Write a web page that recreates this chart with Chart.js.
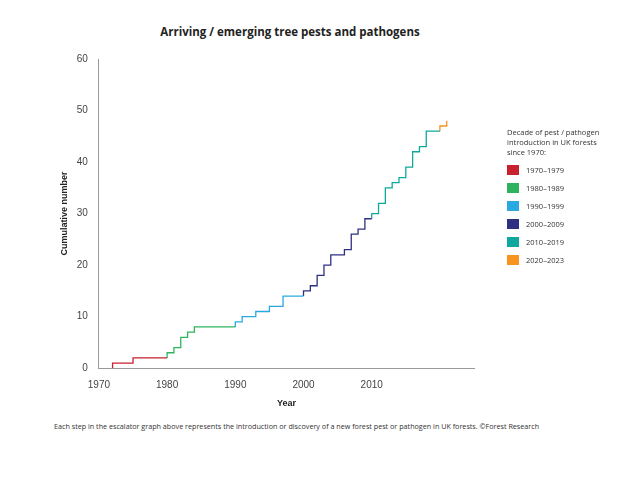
<!DOCTYPE html>
<html><head><meta charset="utf-8">
<script src="https://cdn.jsdelivr.net/npm/chart.js@4"></script>
<style>
body{margin:0;width:640px;height:480px;background:#fff;font-family:"Open Sans",sans-serif;position:relative;overflow:hidden}
#wrap{position:absolute;left:0;top:0;width:640px;height:413px}
#title{position:absolute;left:0;width:580px;top:24px;text-align:center;font-weight:bold;font-size:11.5px;color:#222}
#legend{position:absolute;left:507px;top:127px;font-size:7.5px;color:#333;line-height:10px}
#legend .item{display:flex;align-items:center;margin-top:8px}
#legend .sw{width:12px;height:10px;margin-right:7px}
#foot{position:absolute;left:54px;top:421px;font-size:7.2px;color:#333}
</style></head><body>
<div id="title">Arriving / emerging tree pests and pathogens</div>
<div id="wrap"><canvas id="c"></canvas></div>
<div id="legend"></div>
<div id="foot">Each step in the escalator graph above represents the introduction or discovery of a new forest pest or pathogen in UK forests. ©Forest Research</div>
<script>
// step years and cumulative counts after each step
const years  = [1972, 1975, 1980, 1981, 1982, 1983, 1984, 1990, 1991, 1993, 1995, 1997, 2000, 2001, 2002, 2003, 2004, 2006, 2007, 2008, 2009, 2010, 2011, 2012, 2013, 2014, 2015, 2016, 2017, 2018, 2020, 2021];
const counts = [1, 2, 3, 4, 6, 7, 8, 9, 10, 11, 12, 14, 15, 16, 18, 20, 22, 23, 26, 27, 29, 30, 32, 35, 36, 37, 39, 42, 43, 46, 47, 48];
const decades = ['1970–1979', '1980–1989', '1990–1999', '2000–2009', '2010–2019', '2020–2023'];
const decadeStart = [1970, 1980, 1990, 2000, 2010, 2020];
const decadeColors = ['#c8202f', '#2db35d', '#29a9e0', '#2e3081', '#0fa89e', '#f7941d'];

const datasets = decades.map((label, d) => {
    const lo = decadeStart[d], hi = lo + 10;
    const pts = [];
    let prev = 0;
    years.forEach((y, i) => {
        if (y < lo) prev = counts[i];
    });
    years.forEach((y, i) => {
        if (y >= lo && y < hi) {
            pts.push({ x: y, y: prev });
            pts.push({ x: y, y: counts[i] });
            prev = counts[i];
        }
    });
    const nextIdx = years.findIndex(y => y >= hi);
    if (nextIdx >= 0) pts.push({ x: years[nextIdx], y: prev });
    return { label, data: pts, borderColor: decadeColors[d], borderWidth: 1.3, pointRadius: 0, stepped: 'before', fill: false };
});

const leg = document.getElementById('legend');
leg.innerHTML = 'Decade of pest / pathogen<br>introduction in UK forests<br>since 1970:' +
    decades.map((l, i) => `<div class="item"><span class="sw" style="background:${decadeColors[i]}"></span>${l}</div>`).join('');

new Chart(document.getElementById('c'), {
    type: 'line',
    data: { datasets },
    options: {
        responsive: true,
        maintainAspectRatio: false,
        animation: false,
        layout: { padding: { left: 55, right: 166, top: 59, bottom: 0 } },
        plugins: { legend: { display: false }, tooltip: { enabled: false } },
        scales: {
            x: {
                type: 'linear', min: 1970, max: 2025,
                grid: { display: false, drawTicks: true },
                border: { color: '#999' },
                ticks: { stepSize: 10, color: '#444', font: { size: 10 }, callback: v => v % 10 === 0 ? v : '' },
                title: { display: true, text: 'Year', color: '#222', font: { size: 9, weight: 'bold' } }
            },
            y: {
                min: 0, max: 60,
                grid: { display: false },
                border: { color: '#999' },
                ticks: { stepSize: 10, color: '#444', font: { size: 10 } },
                title: { display: true, text: 'Cumulative number', color: '#222', font: { size: 9, weight: 'bold' } }
            }
        }
    }
});
</script>
</body></html>
